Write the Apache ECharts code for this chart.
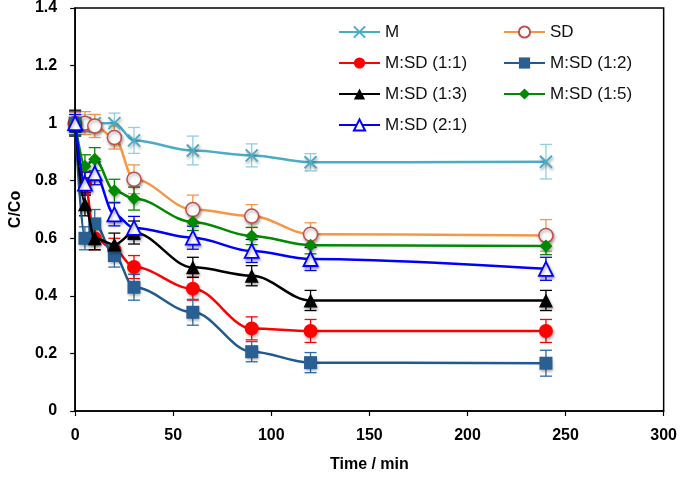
<!DOCTYPE html>
<html>
<head>
<meta charset="utf-8">
<script src="https://cdn.jsdelivr.net/npm/echarts@6/dist/echarts.min.js"></script>
<style>html,body{margin:0;padding:0;background:#fff}#c{width:680px;height:478px}</style>
</head>
<body>
<div id="c"></div>
<script>
var times = [0, 5, 10, 20, 30, 60, 90, 120, 240];
var xTicks = [0, 50, 100, 150, 200, 250, 300];
var yTicks = [0, 0.2, 0.4, 0.6, 0.8, 1, 1.2, 1.4];

var M_val      = [1.0, 1.0, 1.0, 1.0, 0.94, 0.905, 0.888, 0.864, 0.866];
var M_err      = [0.03, 0.03, 0.03, 0.035, 0.045, 0.05, 0.04, 0.03, 0.06];
var SD_val     = [1.0, 1.0, 0.99, 0.95, 0.805, 0.70, 0.677, 0.614, 0.61];
var SD_err     = [0.04, 0.04, 0.04, 0.04, 0.05, 0.05, 0.04, 0.04, 0.055];
var MSD11_val  = [1.0, 0.79, 0.60, 0.56, 0.50, 0.425, 0.287, 0.278, 0.278];
var MSD11_err  = [0.04, 0.04, 0.04, 0.04, 0.04, 0.04, 0.04, 0.04, 0.04];
var MSD12_val  = [1.0, 0.60, 0.65, 0.54, 0.43, 0.343, 0.206, 0.168, 0.166];
var MSD12_err  = [0.04, 0.04, 0.05, 0.04, 0.045, 0.045, 0.035, 0.035, 0.045];
var MSD13_val  = [1.0, 0.718, 0.60, 0.578, 0.62, 0.499, 0.47, 0.384, 0.384];
var MSD13_err  = [0.045, 0.04, 0.04, 0.04, 0.04, 0.035, 0.035, 0.035, 0.035];
var MSD15_val  = [1.0, 0.85, 0.875, 0.765, 0.738, 0.657, 0.608, 0.576, 0.573];
var MSD15_err  = [0.03, 0.04, 0.04, 0.04, 0.04, 0.03, 0.03, 0.03, 0.03];
var MSD21_val  = [1.0, 0.79, 0.826, 0.683, 0.636, 0.602, 0.556, 0.528, 0.494];
var MSD21_err  = [0.03, 0.04, 0.04, 0.04, 0.04, 0.04, 0.04, 0.04, 0.04];

var seriesDefs = [
  {name: 'M', vals: M_val, errs: M_err, line: '#4bacc6', err: '#8fcfdf', symbol: 'path://M0,0L10,10M10,0L0,10', fill: 'none', border: '#4bacc6', size: 12, bw: 2},
  {name: 'SD', vals: SD_val, errs: SD_err, line: '#f79646', err: '#f79646', symbol: 'circle', fill: '#ffffff', border: '#c0504d', size: 14, bw: 1.5},
  {name: 'M:SD (1:1)', vals: MSD11_val, errs: MSD11_err, line: '#ff0000', err: '#ff0000', symbol: 'circle', fill: '#ff0000', border: '#ff0000', size: 14, bw: 0},
  {name: 'M:SD (1:2)', vals: MSD12_val, errs: MSD12_err, line: '#215a8f', err: '#2e6aa3', symbol: 'rect', fill: '#2a5f94', border: '#2a5f94', size: 13, bw: 0},
  {name: 'M:SD (1:3)', vals: MSD13_val, errs: MSD13_err, line: '#000000', err: '#000000', symbol: 'triangle', fill: '#000000', border: '#000000', size: 14, bw: 0},
  {name: 'M:SD (1:5)', vals: MSD15_val, errs: MSD15_err, line: '#008a00', err: '#008a00', symbol: 'diamond', fill: '#008a00', border: '#008a00', size: 13, bw: 0},
  {name: 'M:SD (2:1)', vals: MSD21_val, errs: MSD21_err, line: '#0000ff', err: '#0000ff', symbol: 'triangle', fill: '#ffffff', border: '#0000ff', size: 14, bw: 1.8}
];

var series = [];
seriesDefs.forEach(function (d, i) {
  var errData = times.map(function (t, k) { return [t, d.vals[k] - d.errs[k], d.vals[k] + d.errs[k]]; });
  series.push({
    type: 'custom',
    name: d.name + '_err',
    z: 2,
    silent: true,
    data: errData,
    renderItem: function (params, api) {
      var x = api.value(0);
      var lo = api.coord([x, api.value(1)]);
      var hi = api.coord([x, api.value(2)]);
      var hw = 6;
      var st = {stroke: d.err, lineWidth: 1.3};
      return {
        type: 'group',
        children: [
          {type: 'line', shape: {x1: lo[0], y1: lo[1], x2: hi[0], y2: hi[1]}, style: st},
          {type: 'line', shape: {x1: lo[0] - hw, y1: lo[1], x2: lo[0] + hw, y2: lo[1]}, style: st},
          {type: 'line', shape: {x1: hi[0] - hw, y1: hi[1], x2: hi[0] + hw, y2: hi[1]}, style: st}
        ]
      };
    }
  });
});
seriesDefs.forEach(function (d, i) {
  series.push({
    type: 'line',
    name: d.name,
    z: 3 + i,
    data: times.map(function (t, k) { return [t, d.vals[k]]; }),
    smooth: 0.35,
    smoothMonotone: 'x',
    symbol: d.symbol,
    symbolSize: d.size,
    showAllSymbol: true,
    lineStyle: {color: d.line, width: 2.5},
    itemStyle: {color: d.fill, borderColor: d.border, borderWidth: d.bw,
      shadowBlur: 3, shadowColor: 'rgba(0,0,0,0.35)', shadowOffsetX: 1, shadowOffsetY: 2},
    emphasis: {disabled: true}
  });
});

var legendText = {fontFamily: 'Liberation Sans, Arial, sans-serif', fontSize: 17, color: '#111', lineHeight: 20};
var option = {
  animation: false,
  backgroundColor: '#ffffff',
  grid: {left: 71, right: 16, top: 5, bottom: 66, show: true, borderColor: '#000', borderWidth: 1.5, backgroundColor: 'transparent'},
  legend: [
    {data: ['M', 'M:SD (1:1)', 'M:SD (1:3)', 'M:SD (2:1)'], orient: 'vertical', left: 338, top: 22, padding: 0,
     itemWidth: 41, itemHeight: 14, itemGap: 11, textStyle: legendText, selectedMode: false},
    {data: ['SD', 'M:SD (1:2)', 'M:SD (1:5)'], orient: 'vertical', left: 503, top: 22, padding: 0,
     itemWidth: 41, itemHeight: 14, itemGap: 11, textStyle: legendText, selectedMode: false}
  ],
  xAxis: {
    type: 'value', min: xTicks[0], max: xTicks[xTicks.length - 1], interval: xTicks[1] - xTicks[0],
    name: 'Time / min', nameLocation: 'middle', nameGap: 46,
    nameTextStyle: {fontFamily: 'Liberation Sans, Arial, sans-serif', fontSize: 16, fontWeight: 'bold', color: '#000'},
    axisLine: {lineStyle: {color: '#000', width: 1.5}},
    axisTick: {show: true, length: 5, lineStyle: {color: '#000', width: 1.2}},
    axisLabel: {margin: 17, fontFamily: 'Liberation Sans, Arial, sans-serif', fontSize: 16, fontWeight: 'bold', color: '#000'},
    splitLine: {show: false}
  },
  yAxis: {
    type: 'value', min: yTicks[0], max: yTicks[yTicks.length - 1], interval: 0.2,
    name: 'C/Co', nameLocation: 'middle', nameGap: 44, nameRotate: 90,
    nameTextStyle: {fontFamily: 'Liberation Sans, Arial, sans-serif', fontSize: 16, fontWeight: 'bold', color: '#000'},
    axisLine: {lineStyle: {color: '#000', width: 1.5}},
    axisTick: {show: true, length: 5, lineStyle: {color: '#000', width: 1.2}},
    axisLabel: {margin: 18, fontFamily: 'Liberation Sans, Arial, sans-serif', fontSize: 16, fontWeight: 'bold', color: '#000'},
    splitLine: {show: false}
  },
  series: series
};
var chart = echarts.init(document.getElementById('c'), null, {renderer: 'canvas'});
chart.setOption(option);
</script>
</body>
</html>
